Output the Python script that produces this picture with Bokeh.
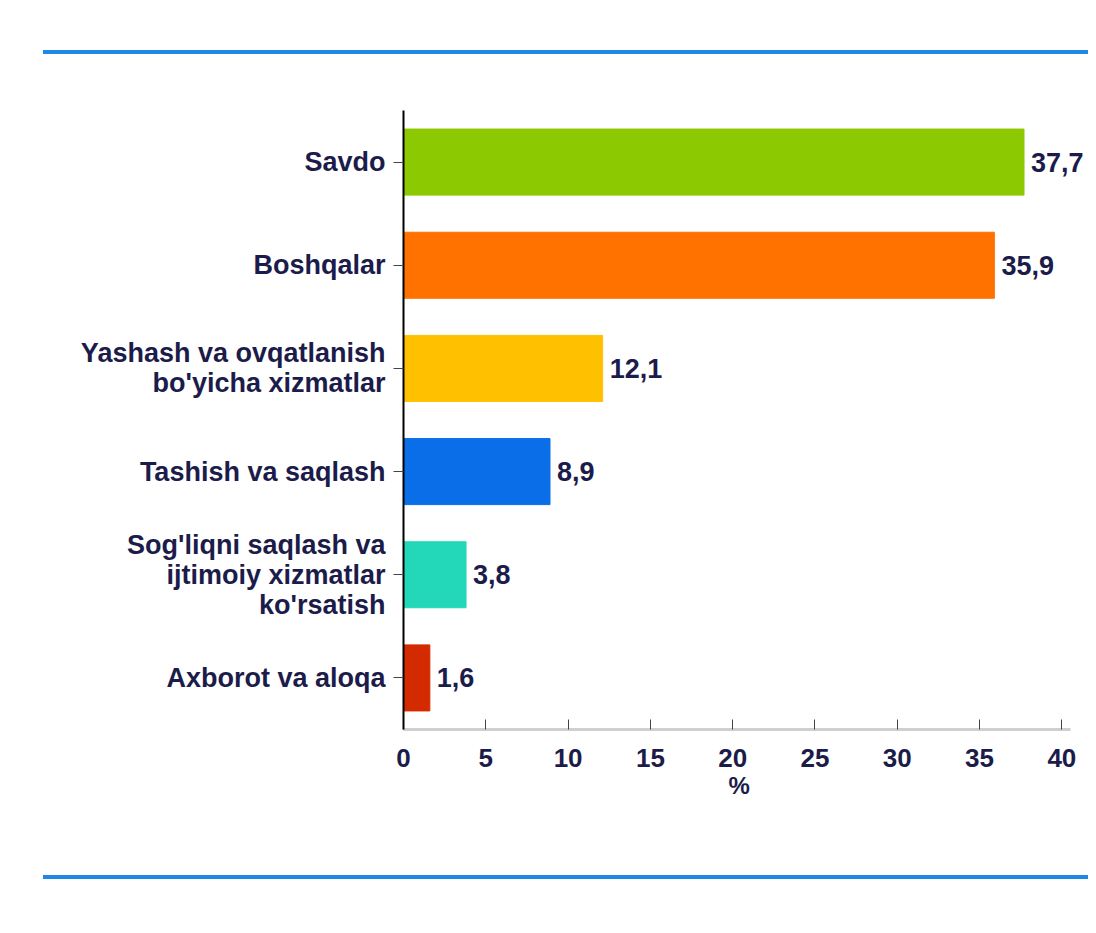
from bokeh.plotting import figure
from bokeh.models import ColumnDataSource, Div, Range1d, FactorRange, LabelSet, Title
from bokeh.layouts import column
from bokeh.embed import file_html
from bokeh.resources import INLINE
from bokeh.core.properties import value

categories = [
    "Savdo",
    "Boshqalar",
    "Yashash va ovqatlanish\nbo'yicha xizmatlar",
    "Tashish va saqlash",
    "Sog'liqni saqlash va\nijtimoiy xizmatlar\nko'rsatish",
    "Axborot va aloqa",
]
values = [37.7, 35.9, 12.1, 8.9, 3.8, 1.6]
value_labels = ["37,7", "35,9", "12,1", "8,9", "3,8", "1,6"]
colors = ["#8CC900", "#FF7200", "#FFC000", "#0A6EE8", "#22D8B8", "#D42A00"]
x_ticks = [0, 5, 10, 15, 20, 25, 30, 35, 40]
x_title = "%"

NAVY = "#1c1c4a"
FONT = "Liberation Sans"

src = ColumnDataSource(dict(
    cat=categories,
    val=values,
    lab=value_labels,
    col=colors,
))

p = figure(
    y_range=FactorRange(*reversed(categories), range_padding=0),
    x_range=Range1d(0, 41.8),
    width=1094, height=821,
    min_border_left=403, min_border_right=3,
    min_border_top=56, min_border_bottom=146,
    output_backend="svg", toolbar_location=None,
)
p.hbar(y="cat", right="val", left=0, height=0.64, color="col", source=src)

labels = LabelSet(x="val", y="cat", text="lab", source=src, x_offset=7,
                  text_font=value(FONT), text_font_style="bold",
                  text_font_size="27px", text_color=NAVY,
                  text_align="left", text_baseline="middle")
p.add_layout(labels)

p.outline_line_color = None
p.grid.grid_line_color = None
p.background_fill_color = "white"
p.border_fill_color = "white"

xa = p.xaxis[0]
xa.ticker = x_ticks
xa.bounds = (0, 40.5)
xa.axis_line_color = "#cfcfcf"
xa.axis_line_width = 3
xa.major_tick_in = 10
xa.major_tick_out = 0
xa.major_tick_line_color = "#444444"
xa.minor_tick_line_color = None
xa.major_label_text_font = FONT
xa.major_label_text_font_style = "bold"
xa.major_label_text_font_size = "26px"
xa.major_label_text_color = NAVY
xa.major_label_standoff = 19

p.add_layout(Title(text=x_title, align="left", offset=325,
                   text_font=FONT, text_font_style="bold",
                   text_font_size="24px", text_color=NAVY,
                   standoff=0), "below")

ya = p.yaxis[0]
ya.axis_line_color = "black"
ya.axis_line_width = 2
ya.major_tick_in = 0
ya.major_tick_out = 10
ya.major_tick_line_color = "#444444"
ya.minor_tick_line_color = None
ya.major_label_text_font = FONT
ya.major_label_text_font_style = "bold"
ya.major_label_text_font_size = "27px"
ya.major_label_text_color = NAVY
ya.major_label_text_align = "right"
ya.major_label_text_line_height = 1.0
ya.major_label_standoff = 8

top_line = Div(width=1045, height=4, margin=(50, 0, 0, 43),
               styles={"background-color": "#1E88E5"})
bottom_line = Div(width=1045, height=4, margin=(0, 0, 0, 43),
                  styles={"background-color": "#1E88E5"})

layout = column(top_line, p, bottom_line, spacing=0)

open("out.html", "w").write(file_html(layout, INLINE))
